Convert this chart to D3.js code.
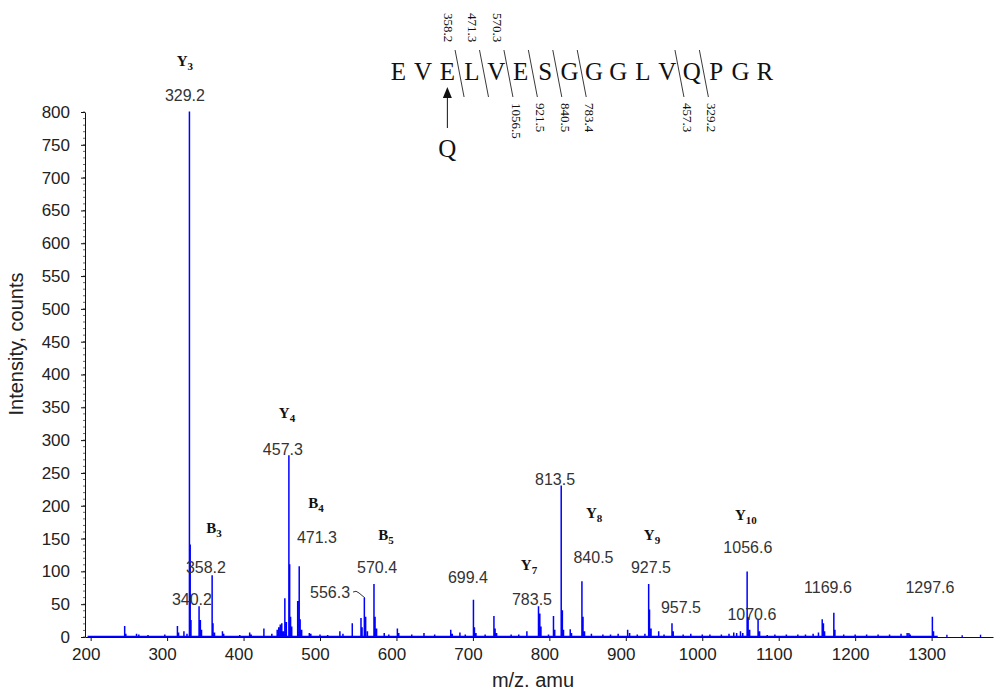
<!DOCTYPE html>
<html>
<head>
<meta charset="utf-8">
<script src="https://cdn.jsdelivr.net/npm/d3@7"></script>
<style>
  body { margin: 0; background: #fff; }
  svg { display: block; }
</style>
</head>
<body>
<svg id="chart" width="994" height="691"></svg>
<script>
// MS/MS spectrum, [m/z, intensity]
var peaks = [
  [244.5, 16], [246, 4], [260, 4], [263, 3], [275, 2], [297, 3], [313.5, 16], [315, 6],
  [322, 8], [326, 4], [329.2, 800], [330.2, 140], [331.2, 25],
  [341.8, 46], [343.5, 25], [345, 10], [358.9, 93], [360, 20], [362, 6],
  [372.4, 8], [374, 4], [395, 2], [408, 6], [410, 3], [426.6, 12], [437, 4],
  [444, 10], [446, 14], [448, 18], [450, 20], [452, 8],
  [454, 58], [456, 22], [459.3, 276], [460.3, 110], [461.5, 30], [463, 15],
  [470.8, 54], [472.8, 107], [474, 26], [476, 10],
  [486, 5], [488, 4], [500, 3], [510, 2], [526, 8], [530, 4],
  [542.2, 20], [553.6, 28], [555, 14], [558, 59], [559.7, 30], [562, 8],
  [570.6, 80], [572, 30], [574, 12], [584, 5], [590, 3],
  [601.2, 12], [603, 5], [620, 3], [636, 5], [650, 3], [671, 10], [673, 4], [683, 6], [690, 3],
  [700.7, 56], [702, 14], [704, 5], [716, 3], [727.5, 31], [729, 12], [731, 5],
  [750, 3], [760, 3], [770.6, 8],
  [785.8, 46], [787.5, 35], [789, 15], [798.9, 3], [805.4, 31], [807, 10],
  [815.5, 230], [817, 40], [818.5, 10], [827.3, 11], [829, 5],
  [842.6, 84], [844, 30], [846, 8], [855, 4], [870, 3], [880, 3], [890, 4],
  [902.4, 10], [905, 5], [915, 3], [925, 4],
  [929.9, 80], [931, 41], [933, 12], [943, 8], [950, 3],
  [960.4, 20], [962, 8], [975, 3], [985, 4], [1000, 3], [1010, 3], [1025, 3], [1035, 4],
  [1041.2, 6], [1045, 5], [1050, 8], [1053, 5],
  [1058.7, 99], [1060, 29], [1062, 10], [1073, 25], [1075, 8],
  [1085, 2], [1095, 3], [1110, 3], [1125, 3], [1135, 3], [1145, 4], [1152, 6],
  [1156.9, 26], [1158.5, 20], [1160, 8], [1172.1, 36], [1173.5, 10],
  [1185, 3], [1200, 3], [1215, 3], [1230, 3], [1245, 3], [1260, 4], [1268, 5], [1270.3, 5], [1272, 3],
  [1301, 30], [1302.5, 8], [1320, 2], [1340, 1], [1364, 2]
];

// peak m/z annotations: [text, m/z, intensity] of the label baseline centre
var mzLabels = [
  ["329.2", 323.3, 817], ["340.2", 332.5, 49], ["358.2", 350.8, 97.5],
  ["457.3", 451.4, 277], ["471.3", 496.0, 143], ["570.4", 574.6, 97.5],
  ["699.4", 693.5, 82], ["783.5", 777.3, 49], ["813.5", 807.4, 232],
  ["840.5", 857.7, 113], ["927.5", 932.9, 97.5], ["957.5", 972.2, 36.6],
  ["1056.6", 1059.6, 128], ["1070.6", 1064.9, 26], ["1169.6", 1164.4, 67],
  ["1297.6", 1297.8, 67]
];
// label with a leader, right aligned
var leaderLabel = ["556.3", 539.3, 59.4];

// fragment ion names: [letter, index, m/z, intensity]
var ionLabels = [
  ["Y", "3", 323.3, 870], ["B", "3", 361.3, 158], ["Y", "4", 456.8, 334],
  ["B", "4", 494.7, 197], ["B", "5", 586.3, 148], ["Y", "7", 773.4, 102],
  ["Y", "8", 858.5, 181], ["Y", "9", 934.2, 148], ["Y", "10", 1057, 178]
];

var sequence = ["E", "V", "E", "L", "V", "E", "S", "G", "G", "G", "L", "V", "Q", "P", "G", "R"];
// cleavage after residue index, with b (above) and y (below) masses
var bCuts = [[2, "358.2"], [3, "471.3"], [4, "570.3"]];
var yCuts = [[4, "1056.5"], [5, "921.5"], [6, "840.5"], [7, "783.4"], [11, "457.3"], [12, "329.2"]];

var xTicks = [200, 300, 400, 500, 600, 700, 800, 900, 1000, 1100, 1200, 1300];
var yTicks = [0, 50, 100, 150, 200, 250, 300, 350, 400, 450, 500, 550, 600, 650, 700, 750, 800];

var svg = d3.select("#chart");
var x = d3.scaleLinear().domain([192.6, 1380.3]).range([85, 993]);
var y = d3.scaleLinear().domain([0, 800]).range([637, 112]);

var axisFont = "'Liberation Sans', Arial, sans-serif";
var serif = "'Liberation Serif', 'Times New Roman', serif";

// minor ticks on the intensity axis
svg.append("g").selectAll("line")
  .data(d3.range(0, 801, 10)).enter().append("line")
  .attr("x1", x.range()[0] - 2).attr("x2", x.range()[0])
  .attr("y1", function(d) { return y(d); }).attr("y2", function(d) { return y(d); })
  .attr("stroke", "#444").attr("stroke-width", 0.8);

var yax = svg.append("g").attr("transform", "translate(" + x.range()[0] + ",0)")
  .call(d3.axisLeft(y).tickValues(yTicks).tickFormat(d3.format("d"))
    .tickSizeInner(4).tickSizeOuter(0).tickPadding(11));
var xax = svg.append("g").attr("transform", "translate(0," + y(0) + ")")
  .call(d3.axisBottom(x).tickValues(xTicks).tickFormat(d3.format("d"))
    .tickSizeInner(4).tickSizeOuter(0).tickPadding(7));

[yax, xax].forEach(function(a) {
  a.selectAll("path, line").attr("stroke", "#111");
  a.selectAll("text").attr("fill", "#222").style("font-family", axisFont).style("font-size", "17px");
});
xax.selectAll("text").attr("dx", -5);

svg.append("text").attr("transform", "translate(23,344) rotate(-90)")
  .attr("text-anchor", "middle").style("font-family", axisFont).style("font-size", "20px")
  .attr("fill", "#222").text("Intensity, counts");
svg.append("text").attr("x", 533).attr("y", 687)
  .attr("text-anchor", "middle").style("font-family", axisFont).style("font-size", "20px")
  .attr("fill", "#222").text("m/z. amu");

// spectrum trace
var pts = [[196, 0]];
peaks.filter(function(p) { return p[0] < 1310; }).forEach(function(p) {
  pts.push([p[0], 0], [p[0], p[1]], [p[0], 0]);
});
pts.push([1308, 0]);
var line = d3.line().x(function(d) { return x(d[0]); }).y(function(d) { return y(d[1]) - 0.6; });
svg.append("path").attr("d", line(pts)).attr("fill", "none")
  .attr("stroke", "#0000ff").attr("stroke-width", 1.5);
svg.append("g").selectAll("line")
  .data(peaks.filter(function(p) { return p[0] >= 1310; })).enter().append("line")
  .attr("x1", function(d) { return x(d[0]); }).attr("x2", function(d) { return x(d[0]); })
  .attr("y1", y(0)).attr("y2", function(d) { return y(d[1]) - 1; })
  .attr("stroke", "#0000ff").attr("stroke-width", 1.4);

// m/z labels
svg.append("g").selectAll("text")
  .data(mzLabels).enter().append("text")
  .attr("x", function(d) { return x(d[1]); }).attr("y", function(d) { return y(d[2]); })
  .attr("text-anchor", "middle").style("font-family", axisFont).style("font-size", "16px")
  .attr("fill", "#333").text(function(d) { return d[0]; });

var lx = x(leaderLabel[1]), ly = y(leaderLabel[2]);
svg.append("text").attr("x", lx).attr("y", ly).attr("text-anchor", "end")
  .style("font-family", axisFont).style("font-size", "16px").attr("fill", "#333").text(leaderLabel[0]);
svg.append("path")
  .attr("d", "M" + (lx + 3) + "," + (ly - 6) + "q3,-2 6,1l6,5")
  .attr("fill", "none").attr("stroke", "#333").attr("stroke-width", 1);

// ion names, bold serif with subscript
ionLabels.forEach(function(d) {
  var t = svg.append("text").attr("x", x(d[2])).attr("y", y(d[3]))
    .attr("text-anchor", "middle").style("font-family", serif).style("font-weight", "bold")
    .style("font-size", "15px").attr("fill", "#111");
  t.append("tspan").text(d[0]);
  t.append("tspan").attr("dy", 4).style("font-size", "11px").text(d[1]);
});

// peptide sequence with fragmentation marks
var seqX = function(i) { return 398.5 + i * 24.43; };
var seq = svg.append("g");
seq.selectAll("text").data(sequence).enter().append("text")
  .attr("x", function(d, i) { return seqX(i); }).attr("y", 80)
  .attr("text-anchor", "middle").style("font-family", serif).style("font-size", "25px")
  .attr("fill", "#111").text(function(d) { return d; });

function cutMid(i) { return (seqX(i) + seqX(i + 1)) / 2; }
var cuts = d3.union(bCuts.map(function(c) { return c[0]; }), yCuts.map(function(c) { return c[0]; }));
seq.selectAll("line.cut").data(Array.from(cuts)).enter().append("line")
  .attr("class", "cut")
  .attr("x1", function(i) { return cutMid(i) - 4.5; }).attr("y1", 50)
  .attr("x2", function(i) { return cutMid(i) + 4.5; }).attr("y2", 97)
  .attr("stroke", "#222").attr("stroke-width", 0.9);

seq.selectAll("text.b").data(bCuts).enter().append("text")
  .attr("class", "b")
  .attr("transform", function(c) { return "translate(" + (cutMid(c[0]) - 15.8) + ",13) rotate(90)"; })
  .style("font-family", serif).style("font-size", "13px").attr("fill", "#111")
  .text(function(c) { return c[1]; });
seq.selectAll("text.y").data(yCuts).enter().append("text")
  .attr("class", "y")
  .attr("transform", function(c) { return "translate(" + (cutMid(c[0]) + 3.5) + ",103) rotate(90)"; })
  .style("font-family", serif).style("font-size", "13px").attr("fill", "#111")
  .text(function(c) { return c[1]; });

// E -> Q arrow under the third residue
var ax = seqX(2);
seq.append("path").attr("d", "M" + ax + ",87L" + (ax - 4.5) + ",98L" + (ax + 4.5) + ",98Z").attr("fill", "#111");
seq.append("line").attr("x1", ax).attr("x2", ax).attr("y1", 98).attr("y2", 128)
  .attr("stroke", "#111").attr("stroke-width", 1);
seq.append("text").attr("x", ax).attr("y", 157).attr("text-anchor", "middle")
  .style("font-family", serif).style("font-size", "25px").attr("fill", "#111").text("Q");
</script>
</body>
</html>
